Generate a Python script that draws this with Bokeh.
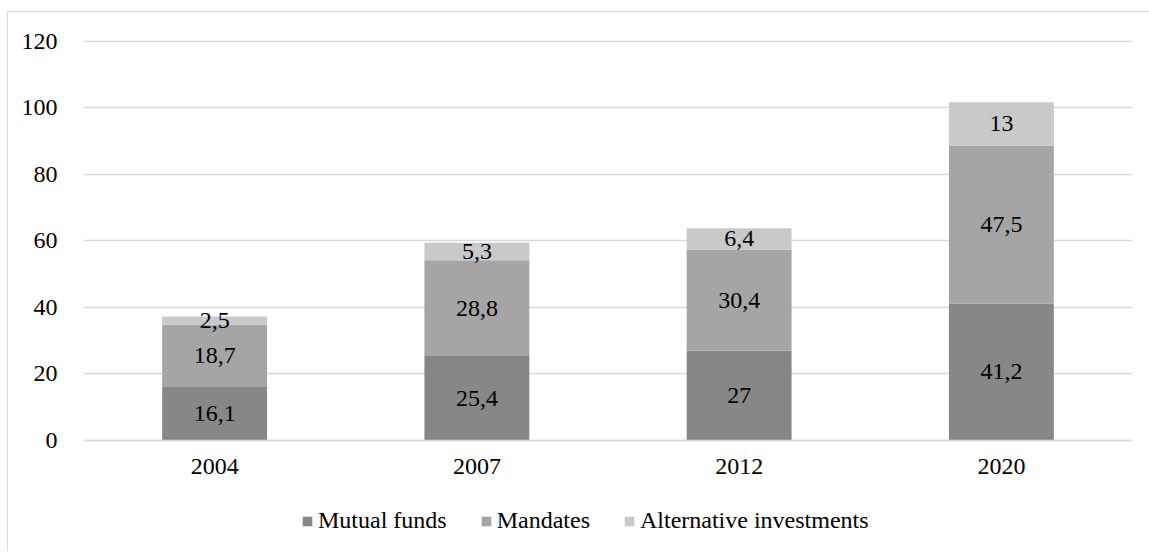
from bokeh.plotting import figure
from bokeh.models import ColumnDataSource, Legend, LegendItem, FixedTicker, Range1d
from bokeh.core.properties import value
from bokeh.embed import file_html
from bokeh.resources import INLINE

years = ["2004", "2007", "2012", "2020"]
mutual_funds = [16.1, 25.4, 27, 41.2]
mandates = [18.7, 28.8, 30.4, 47.5]
alternative = [2.5, 5.3, 6.4, 13]
series_names = ["Mutual funds", "Mandates", "Alternative investments"]
colors = ["#878787", "#a5a5a5", "#c9c9c9"]
y_ticks = [0, 20, 40, 60, 80, 100, 120]

FONT = "Liberation Serif"
FS = "24px"

def fmt(v):
    s = ("%g" % v)
    return s.replace(".", ",")

series = [mutual_funds, mandates, alternative]
bottoms = []
tops = []
acc = [0.0] * len(years)
for s in series:
    b = list(acc)
    t = [a + v for a, v in zip(acc, s)]
    bottoms.append(b)
    tops.append(t)
    acc = t

# frame: top y=39, bottom y=540 (abs); 0 at y=440, 120 at y=41
p = figure(x_range=years, y_range=Range1d(-30.08, 120.6),
           frame_width=1049, frame_height=501,
           output_backend="svg", toolbar_location=None,
           min_border_left=75, min_border_right=17, min_border_top=27, min_border_bottom=11)
p.margin = (11, 0, 0, 7)
p.styles = {"border-top": "1px solid #d9d9d9", "border-left": "1px solid #d9d9d9"}
p.outline_line_color = None
p.background_fill_color = "white"
p.border_fill_color = "white"

items = []
for i, s in enumerate(series):
    src = ColumnDataSource(dict(x=years, bottom=bottoms[i], top=tops[i],
                                mid=[(b + t) / 2 for b, t in zip(bottoms[i], tops[i])],
                                label=[fmt(v) for v in s]))
    r = p.vbar(x="x", bottom="bottom", top="top", width=0.4, source=src,
               fill_color=colors[i], line_color=None)
    p.text(x="x", y="mid", text="label", source=src, text_align="center",
           text_baseline="middle", text_font=value(FONT), text_font_size=FS,
           text_color="#000000")
    items.append(LegendItem(label=series_names[i], renderers=[r]))

legend = Legend(items=items, orientation="horizontal", location=(218, 6),
                label_text_font=FONT, label_text_font_size=FS, label_text_color="#000000",
                glyph_width=12, glyph_height=12, label_standoff=5, spacing=33,
                padding=0, margin=0, border_line_color=None, background_fill_alpha=0)
p.add_layout(legend, "center")

p.xgrid.grid_line_color = None
p.ygrid.grid_line_color = "#d9d9d9"
p.ygrid.grid_line_width = 1.5
p.yaxis.ticker = FixedTicker(ticks=y_ticks)
p.yaxis.axis_line_color = None
p.yaxis.major_tick_line_color = None
p.yaxis.minor_tick_line_color = None
p.yaxis.major_label_standoff = 20
p.xaxis.fixed_location = 0
p.xaxis.axis_line_color = "#d9d9d9"
p.xaxis.axis_line_width = 1.5
p.xaxis.major_tick_line_color = None
p.xaxis.major_label_standoff = 13
for ax in (p.xaxis, p.yaxis):
    ax.major_label_text_font = FONT
    ax.major_label_text_font_size = FS
    ax.major_label_text_color = "#000000"
    ax.major_label_text_font_style = "normal"

open("out.html", "w").write(file_html(p, INLINE))
